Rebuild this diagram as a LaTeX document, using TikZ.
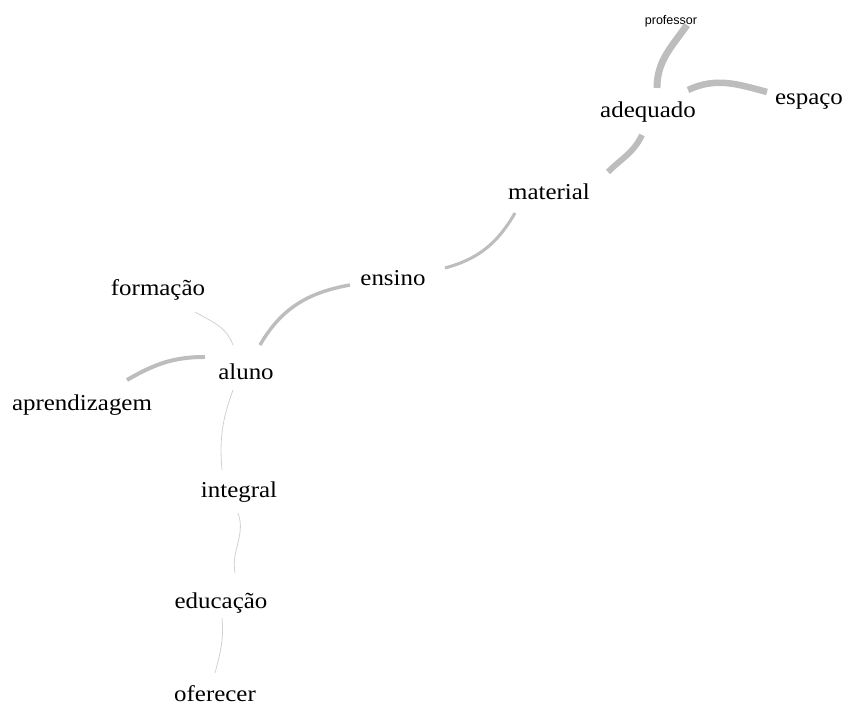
\documentclass[tikz,border=0pt]{standalone}
\usepackage{fontspec}
\setmainfont{Liberation Serif}[FakeStretch=1.1]
\newfontfamily\tinysans{Liberation Sans}
\usepackage{tikz}
\tikzset{
	word/.style = {inner sep=0pt, font=\fontsize{17}{20}\selectfont},
	tie/.style = {draw=black!26, line width=#1},
	faint/.style = {draw=black!18, line width=0.6pt}
}

\begin{document}
\begin{tikzpicture}[x=0.75pt, y=0.75pt]
		\useasboundingbox (0,0) rectangle (851,706);
		
		\node [inner sep=0pt, font=\tinysans\fontsize{9.4}{11}\selectfont] (professor) at (671,685) {professor};
		\node [word] (adequado) at (648,594) {adequado};
		\node [word] (espaco) at (809,604) {espaço};
		\node [word] (material) at (549,514) {material};
		\node [word] (ensino) at (393,428) {ensino};
		\node [word] (formacao) at (158,416) {formação};
		\node [word] (aluno) at (246,334) {aluno};
		\node [word] (aprendizagem) at (82,301) {aprendizagem};
		\node [word] (integral) at (239,214) {integral};
		\node [word] (educacao) at (221,103) {educação};
		\node [word] (oferecer) at (215,12) {oferecer};
		
		\draw [tie=5.2pt] ([shift={(9,24)}]adequado.center) to [out=90, in=235] ([shift={(16,-4)}]professor.center);
		\draw [tie=4.9pt] ([shift={(40,22)}]adequado.center) to [out=25, in=165] ([shift={(-42,10)}]espaco.center);
		\draw [tie=4.5pt] ([shift={(-6,-23)}]adequado.center) to [out=245, in=45] ([shift={(59,20)}]material.center);
		\draw [tie=2.3pt] ([shift={(-34,-21)}]material.center) to [out=240, in=15] ([shift={(52,10)}]ensino.center);
		\draw [tie=2.6pt] ([shift={(-43,-7)}]ensino.center) to [out=190, in=60] ([shift={(14,27)}]aluno.center);
		\draw [tie=3pt] ([shift={(-41,15)}]aluno.center) to [out=180, in=30] ([shift={(45,25)}]aprendizagem.center);
		
		\draw [faint] ([shift={(-13,27)}]aluno.center) to [out=110, in=-30] ([shift={(37,-22)}]formacao.center);
		\draw [faint] ([shift={(-13,-18)}]aluno.center) to [out=250, in=95] ([shift={(-17,22)}]integral.center);
		\draw [faint] ([shift={(-1,-21)}]integral.center) to [out=-70, in=100] ([shift={(14,30)}]educacao.center);
		\draw [faint] ([shift={(1,-15)}]educacao.center) to [out=-85, in=75] ([shift={(0,21)}]oferecer.center);
	\end{tikzpicture}
\end{document}
